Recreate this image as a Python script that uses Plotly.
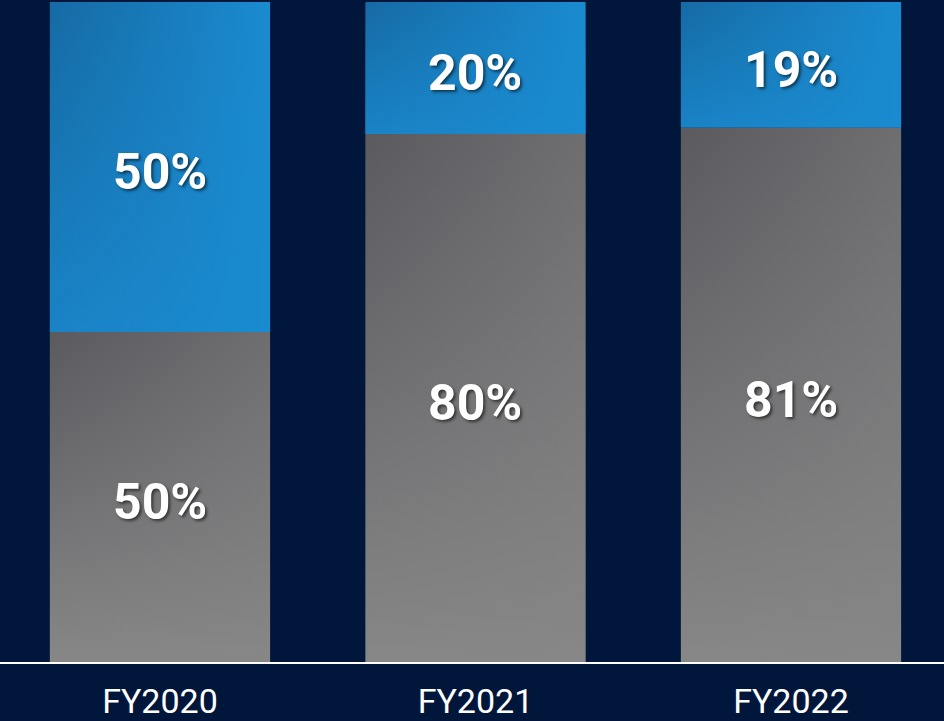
import plotly.graph_objects as go

# Revenue mix by fiscal year (share of total, %)
years = ["FY2020", "FY2021", "FY2022"]
lower_share = [50, 80, 81]   # grey segment
upper_share = [50, 20, 19]   # blue segment

BG = "#00173b"
BAR_WIDTH = 0.698

# vertical gradients run bottom (0) -> top (1)
GREY_V = [[0, "#878787"], [1, "#5a5a5f"]]
GREY_H = [[0, "rgba(135,135,135,0)"], [1, "rgba(135,135,135,0.45)"]]
BLUE_H = [[0, "#166aa4"], [1, "#1a8bd0"]]
BLUE_V = [[0, "rgba(26,139,208,0.75)"], [1, "rgba(26,139,208,0)"]]

fig = go.Figure()


def add_segment(xc, y0, y1, layers):
    half = BAR_WIDTH / 2
    xs = [xc - half, xc + half, xc + half, xc - half, xc - half]
    ys = [y0, y0, y1, y1, y0]
    for kind, scale in layers:
        fig.add_trace(go.Scatter(
            x=xs, y=ys, mode="lines", fill="toself",
            line=dict(width=0),
            fillgradient=dict(type=kind, colorscale=scale),
            hoverinfo="skip", showlegend=False,
        ))


for i, (lo, up) in enumerate(zip(lower_share, upper_share)):
    add_segment(i, 0, lo, [("vertical", GREY_V), ("horizontal", GREY_H)])
    add_segment(i, lo, lo + up, [("horizontal", BLUE_H), ("vertical", BLUE_V)])

# value labels centred in each segment
label_font = dict(family="Roboto", size=50, color="white", weight="bold",
                  shadow="2px 2px 3px rgba(0,0,0,0.55)")
for i, (lo, up) in enumerate(zip(lower_share, upper_share)):
    for yc, val in ((lo / 2, lo), (lo + up / 2, up)):
        fig.add_annotation(
            x=i, y=yc, text=f"{val}%", showarrow=False,
            xanchor="center", yanchor="middle", yshift=-5,
            font=label_font,
        )

fig.update_layout(
    width=944, height=721,
    margin=dict(l=0, r=0, t=0, b=59),
    paper_bgcolor=BG, plot_bgcolor=BG,
    showlegend=False,
)
fig.update_xaxes(
    range=[-0.507, 2.485],
    tickvals=list(range(len(years))), ticktext=years,
    tickfont=dict(family="Roboto", size=34, color="white"),
    showgrid=False, zeroline=False,
    showline=True, linecolor="white", linewidth=2,
    ticks="", ticklabelstandoff=8,
)
fig.update_yaxes(
    range=[0, 100.3], visible=False, showgrid=False, zeroline=False,
)

fig.write_html("out.html")
